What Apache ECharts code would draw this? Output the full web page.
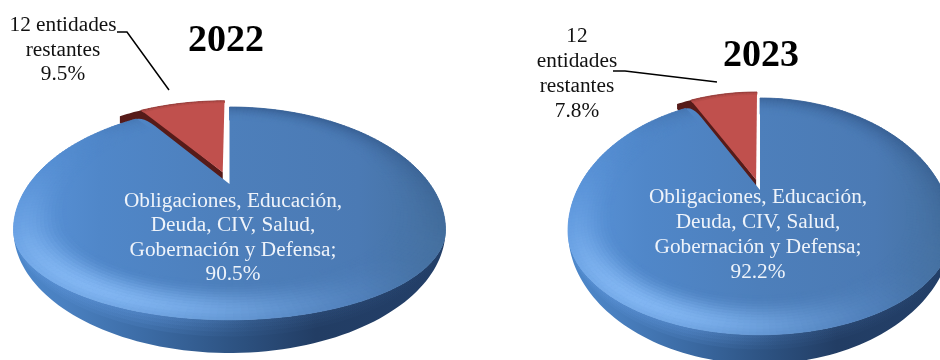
<!DOCTYPE html>
<html><head><meta charset="utf-8">
<style>html,body{margin:0;padding:0;background:#fff}#c{width:940px;height:360px}</style>
<script src="https://cdn.jsdelivr.net/npm/echarts@6/dist/echarts.min.js"></script>
</head><body><div id="c"></div>
<script>
const years = ['2022', '2023'];
const values2022 = [9.5, 90.5];
const values2023 = [7.8, 92.2];
const labels2022 = ['12 entidades\nrestantes\n9.5%', 'Obligaciones, Educación,\nDeuda, CIV, Salud,\nGobernación y Defensa;\n90.5%'];
const labels2023 = ['12\nentidades\nrestantes\n7.8%', 'Obligaciones, Educación,\nDeuda, CIV, Salud,\nGobernación y Defensa;\n92.2%'];

const FONT = '"Liberation Serif","Times New Roman",serif';
const layouts = [
  {cx:229.5, cy:184, far:77, near:169, rx:216, squash:0.73, explode:0.12, darkExtra:9, round:3, wallC:7, wallA:10,
   text:[{x:63,y:50,lh:24.5},{x:233,y:238,lh:24.5}],
   leader:[[117,32],[127,32],[169,90]]},
  {cx:760, cy:190, far:92, near:174, rx:192, squash:0.78, explode:0.09, darkExtra:6, round:3, wallC:5, wallA:10,
   text:[{x:577,y:74,lh:25},{x:758,y:235,lh:24.8}],
   leader:[[613,71],[625,71],[717,82]]}
];
const hex = c => [parseInt(c.slice(1,3),16),parseInt(c.slice(3,5),16),parseInt(c.slice(5,7),16)];
const mix = (a,b,t) => { const A=hex(a),B=hex(b); t=Math.max(0,Math.min(1,t));
  return '#'+A.map((v,i)=>Math.round(v+(B[i]-v)*t).toString(16).padStart(2,'0')).join(''); };
const ramp = (stops,t) => { t=Math.max(0,Math.min(1,t));
  for(let i=1;i<stops.length;i++) if(t<=stops[i][0]) return mix(stops[i-1][1],stops[i][1],(t-stops[i-1][0])/(stops[i][0]-stops[i-1][0]));
  return stops[stops.length-1][1]; };
const blueFace = [[0,'#5a94da'],[0.2,'#5087c9'],[0.5,'#4d7fbb'],[0.8,'#4b7ab4'],[1,'#45709f']];
const sideStops = [[0,'#4d88cb'],[0.12,'#4a80c0'],[0.3,'#3c6ca6'],[0.5,'#2e5484'],[0.7,'#223d64'],[1,'#233f68']];

function makeSeries(values, labels, L){
  const k=(L.near-L.far)/(L.near+L.far), B=L.far*(1+k), A=L.rx*Math.sqrt(1-k*k);
  const ymid=L.cy+(L.near-L.far)/2;
  const total=values.reduce((a,b)=>a+b,0);
  // drop 0 = top face boundary, drop 1 = outer silhouette
  const proj=(u,v,drop)=>{const s=1/(1-k*v),d=drop||0;
    const y=L.cy+B*v*s, top=y>ymid?ymid+(y-ymid)*L.squash:y;
    return [L.cx+A*u*s, top+(y-top)*d];};
  const arcPt=(deg,r,ox,oy,drop)=>{const a=deg*Math.PI/180;return proj(ox+r*Math.sin(a),oy-r*Math.cos(a),drop);};
  const poly=(pts,fill,stroke)=>({type:'polygon',silent:true,shape:{points:pts},
     style:stroke?{fill:fill,stroke:fill,lineWidth:0.8}:{fill:fill}});
  const hGrad=stops=>new echarts.graphic.LinearGradient(L.cx-L.rx,0,L.cx+L.rx,0,stops.map(s=>({offset:s[0],color:s[1]})),true);
  return {
    type:'custom', coordinateSystem:'none', silent:true, animation:false, progressive:0,
    data:values.map(v=>[v]),
    clip:false,
    renderItem(params,api){
      const i=params.dataIndex, value=api.value(0);
      let before=0; for(let j=0;j<i;j++) before+=values[j];
      const first=values[0]/total*360;
      const t0=before/total*360-first, t1=t0+value/total*360;
      const isRed=i===0;
      const e=isRed?L.explode:0, mid=(t0+t1)/2*Math.PI/180;
      const ox=e*Math.sin(mid), oy=-e*Math.cos(mid);
      const kids=[];
      const seg=Math.ceil((t1-t0)/1.5), step=(t1-t0)/seg;
      const apex=proj(ox,oy);
      const baseCol=x=>ramp(blueFace,(x-(L.cx-L.rx))/(2*L.rx));
      if(isRed){
        const dark='#561b19';
        const wall=[apex];
        for(let a=t0+1;a>=t0-L.darkExtra;a-=1) wall.push(arcPt(a,1,ox,oy));
        const cc=arcPt(t0-L.darkExtra,1,ox,oy);
        wall.push([cc[0],cc[1]+L.wallC]);
        wall.push([apex[0],apex[1]+L.wallA]);
        kids.push(poly(wall,dark));
        const face=[apex]; for(let n=0;n<=seg;n++) face.push(arcPt(t0+n*step,1,ox,oy));
        kids.push(poly(face,'#c0504d'));
        for(let n=0;n<seg;n++){
          const a=t0+n*step;
          for(let q=0;q<3;q++){
            const r0=1-q*0.012,r1=1-(q+1)*0.012;
            kids.push(poly([arcPt(a,r0,ox,oy),arcPt(a+step,r0,ox,oy),arcPt(a+step,r1,ox,oy),arcPt(a,r1,ox,oy)],mix('#8c3a37','#c0504d',(q+0.5)/3),true));
          }
        }
      } else {
        const band=drop=>{const p=[];
          for(let n=0;n<=seg;n++) p.push(arcPt(t0+n*step,1,0,0,0));
          for(let n=seg;n>=0;n--) p.push(arcPt(t0+n*step,1,0,0,drop));
          return p;};
        kids.push(poly(band(1),hGrad(sideStops)));
        [0.5,0.36,0.24,0.12].forEach(d=>{
          kids.push(poly(band(d),hGrad([[0,'rgba(100,155,225,0.11)'],[0.3,'rgba(100,155,225,0.13)'],[0.55,'rgba(100,155,225,0.04)'],[1,'rgba(100,155,225,0)']])));
        });
        const face=[apex];
        const endA=t1-L.round;
        const endSeg=Math.ceil((endA-t0)/1.5), st=(endA-t0)/endSeg;
        for(let n=0;n<=endSeg;n++) face.push(arcPt(t0+n*st,1,0,0));
        const corner=arcPt(t1,1,0,0), from=face[face.length-1];
        const to=[corner[0]+(apex[0]-corner[0])*0.13,corner[1]+(apex[1]-corner[1])*0.13];
        for(let q=1;q<=6;q++){const w=q/6;
          face.push([(1-w)*(1-w)*from[0]+2*w*(1-w)*corner[0]+w*w*to[0],(1-w)*(1-w)*from[1]+2*w*(1-w)*corner[1]+w*w*to[1]]);}
        kids.push(poly(face,hGrad(blueFace)));
        const rings=14, width=0.22;
        for(let n=0;n<endSeg;n++){
          const a=t0+n*st, am=(a+st/2-212)*Math.PI/180;
          const cs=Math.cos(am);
          const light=cs>0?Math.pow(cs,3.2):cs*0.8;
          for(let q=0;q<rings;q++){
            const r0=1-q*width/rings,r1=1-(q+1)*width/rings;
            const p0=arcPt(a,r0,0,0),p1=arcPt(a+st,r0,0,0),p2=arcPt(a+st,r1,0,0),p3=arcPt(a,r1,0,0);
            const b=baseCol((p0[0]+p2[0])/2);
            const x=(q+0.5)/rings;
            const fade=x<0.2?0.75+0.25*x/0.2:Math.pow(Math.cos((x-0.2)/0.8*Math.PI/2),2);
            const col=light>0?mix(b,'#82b6f2',light*fade):mix(b,'#2f5384',-light*Math.pow(1-x,1.8)*0.85);
            kids.push(poly([p0,p1,p2,p3],col,true));
          }
        }
      }
      const t=L.text[i];
      kids.push({type:'text',silent:true,z2:5,style:{text:labels[i],x:t.x,y:t.y,align:'center',verticalAlign:'middle',
        fill:isRed?'#111111':'#eef3fa',font:'21.3px '+FONT,lineHeight:t.lh}});
      if(isRed) kids.push({type:'polyline',silent:true,shape:{points:L.leader},style:{stroke:'#000',lineWidth:1.5,fill:null}});
      return {type:'group',children:kids};
    }
  };
}
const chart=echarts.init(document.getElementById('c'),null,{renderer:'canvas'});
chart.setOption({
  animation:false, backgroundColor:'#ffffff',
  title:[
    {text:years[0],left:188,top:22,textStyle:{fontFamily:FONT,fontWeight:'bold',fontSize:38,color:'#000'},padding:0},
    {text:years[1],left:723,top:37,textStyle:{fontFamily:FONT,fontWeight:'bold',fontSize:38,color:'#000'},padding:0}
  ],
  series:[makeSeries(values2022,labels2022,layouts[0]),makeSeries(values2023,labels2023,layouts[1])]
});
</script></body></html>
